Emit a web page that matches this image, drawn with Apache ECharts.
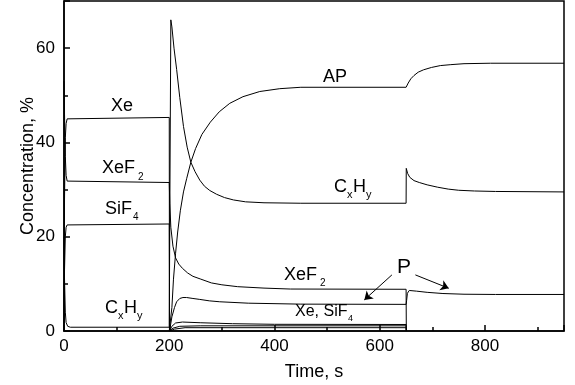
<!DOCTYPE html>
<html>
<head>
<meta charset="UTF-8">
<title>Concentration vs time</title>
<script src="https://cdn.jsdelivr.net/npm/echarts@6/dist/echarts.min.js"></script>
<style>
  html, body { margin: 0; padding: 0; background: #fff; }
  #chart { width: 575px; height: 385px; }
</style>
</head>
<body>
<div id="chart"></div>
<script>
// curves: [time s, concentration %]
const xe = [[0,0],[1,28],[2.5,41],[4,44],[6,45],[9,45.3],[200,45.3],[200.4,0],[205,1.0],[212,1.7],[225,1.9],[260,1.75],[320,1.55],[400,1.42],[650,1.38],[650.4,0]];
const xeF2 = [[0,53],[1,46],[2.5,37],[4,33],[6,31.8],[9,31.5],[200,31.5],[201,27],[203,22],[207,18],[212,15.5],[218,14.2],[225,13.3],[235,12.3],[245,11.6],[260,11],[280,10.2],[300,9.8],[330,9.4],[380,9.1],[430,8.9],[650,8.85],[650.4,0]];
const siF4 = [[0,0],[1,13],[2.5,20],[4,22],[6,22.5],[9,22.7],[200,22.7],[200.4,0],[207,0.6],[220,1.0],[260,1.1],[650,1.1],[650.4,0]];
const cxHy = [[0,20],[1,11],[2.5,4],[4,1.8],[7,1.0],[12,0.8],[200,0.8],[201.5,35],[203,66],[205,64.5],[209,60],[214,55.5],[220,49.5],[227,43.4],[234,39],[241,35.8],[249,33.8],[258,32],[267,30.7],[277,29.8],[290,29],[305,28.3],[322,27.8],[345,27.4],[380,27.2],[450,27.1],[650,27.1],[650.3,34.5],[653,33.4],[657,32.6],[665,31.9],[675,31.5],[690,31],[710,30.5],[730,30.1],[750,29.85],[780,29.7],[820,29.6],[950,29.5]];
const ap = [[200,0],[202,0],[205,5],[208,11],[212,16.5],[216,21],[221,25.5],[227,29.5],[233,32.3],[241,35.8],[250,38.7],[262,41.7],[278,44.3],[295,46.5],[315,48.3],[340,49.7],[372,50.8],[410,51.4],[450,51.7],[650,51.7],[654,52.6],[659,53.5],[665,54.2],[673,54.9],[683,55.4],[698,55.9],[715,56.3],[735,56.5],[760,56.7],[810,56.8],[950,56.8]];
const p = [[200,0],[202,1],[205,3],[210,5],[214,6.2],[220,6.9],[226,7.1],[233,7.1],[245,6.9],[258,6.7],[276,6.4],[296,6.2],[350,5.9],[450,5.7],[650,5.65],[651,6.5],[652.5,8.0],[656,8.6],[670,8.45],[690,8.2],[720,7.95],[760,7.8],[820,7.75],[950,7.75]];
const minor = [[200,0],[210,0.4],[230,0.7],[650,0.7],[650.4,0]];

const xTicks = [0, 200, 400, 600, 800];
const yTicks = [0, 20, 40, 60];

// arrows from the "P" label
const arrows = [
  [[623, 11.9], [570.6, 6.6]],
  [[667.6, 11.9], [731, 9.06]]
];

const FONT = '"Liberation Sans", Arial, sans-serif';

// curve labels (pixel positions)
const labels = [
  ['Xe', 122, 106, 18, 'center'],
  ['XeF', 102, 168, 18, 'left'], ['2', 138, 177, 10, 'left'],
  ['SiF', 105, 209, 18, 'left'], ['4', 133, 217, 10, 'left'],
  ['C', 105, 308, 18, 'left'], ['x', 118, 316, 11, 'left'], ['H', 124, 308, 18, 'left'], ['y', 137, 316, 11, 'left'],
  ['AP', 335, 77, 18, 'center'],
  ['C', 334, 187, 18, 'left'], ['x', 347, 195, 11, 'left'], ['H', 353, 187, 18, 'left'], ['y', 366, 195, 11, 'left'],
  ['XeF', 284, 275, 18, 'left'], ['2', 320, 283, 10, 'left'],
  ['P', 404, 267, 21, 'center'],
  ['Xe, SiF', 295, 312, 16, 'left'], ['4', 348, 319, 9, 'left']
];

const chart = echarts.init(document.getElementById('chart'), null, { renderer: 'canvas' });

const black = '#000';
function lineSeries(data) {
  return {
    type: 'line', data: data, showSymbol: false, silent: true,
    lineStyle: { color: black, width: 1 }, animation: false
  };
}

const series = [xe, xeF2, siF4, cxHy, ap, p, minor].map(lineSeries);
series[5].markLine = {
  silent: true, animation: false,
  symbol: ['none', 'arrow'], symbolSize: 8,
  lineStyle: { color: black, width: 1, type: 'solid' },
  itemStyle: { color: black },
  label: { show: false },
  data: arrows.map(a => [{ coord: a[0] }, { coord: a[1] }])
};

chart.setOption({
  animation: false,
  grid: { left: 64, right: 11, top: 1, bottom: 54, outerBoundsMode: 'none',
    show: true, borderColor: black, borderWidth: 1.5, backgroundColor: 'transparent' },
  xAxis: [
    {
      type: 'value', min: 0, max: 950, interval: 200, position: 'bottom',
      name: 'Time, s', nameLocation: 'middle', nameGap: 32, nameMoveOverlap: false,
      nameTextStyle: { color: black, fontSize: 18, fontFamily: FONT },
      axisLine: { show: true, lineStyle: { color: black, width: 1.5 } },
      axisTick: { inside: true, length: 6, lineStyle: { color: black, width: 1.5 } },
      axisLabel: { color: black, fontSize: 17, fontFamily: FONT, margin: 7,
        formatter: v => xTicks.includes(v) ? String(v) : '' },
      splitLine: { show: false }
    },
    {
      type: 'value', min: 0, max: 950, interval: 100, position: 'bottom', offset: 0,
      axisLine: { show: false },
      axisTick: { inside: true, length: 4, lineStyle: { color: black, width: 1.5 } },
      axisLabel: { show: false }, splitLine: { show: false }
    }
  ],
  yAxis: [
    {
      type: 'value', min: 0, max: 70, interval: 20, position: 'left',
      name: 'Concentration, %', nameLocation: 'middle', nameGap: 27, nameMoveOverlap: false,
      nameTextStyle: { color: black, fontSize: 18, fontFamily: FONT },
      axisLine: { show: true, lineStyle: { color: black, width: 1.5 } },
      axisTick: { inside: true, length: 6, lineStyle: { color: black, width: 1.5 } },
      axisLabel: { color: black, fontSize: 17, fontFamily: FONT, margin: 9,
        formatter: v => yTicks.includes(v) ? String(v) : '' },
      splitLine: { show: false }
    },
    {
      type: 'value', min: 0, max: 70, interval: 10, position: 'left', offset: 0,
      axisLine: { show: false },
      axisTick: { inside: true, length: 4, lineStyle: { color: black, width: 1.5 } },
      axisLabel: { show: false }, splitLine: { show: false }
    }
  ],
  series: series,
  graphic: labels.map(l => ({
    type: 'text', x: l[1], y: l[2], silent: true,
    style: { text: l[0], fill: black, font: l[3] + 'px ' + FONT, align: l[4], verticalAlign: 'middle' }
  }))
});
</script>
</body>
</html>
